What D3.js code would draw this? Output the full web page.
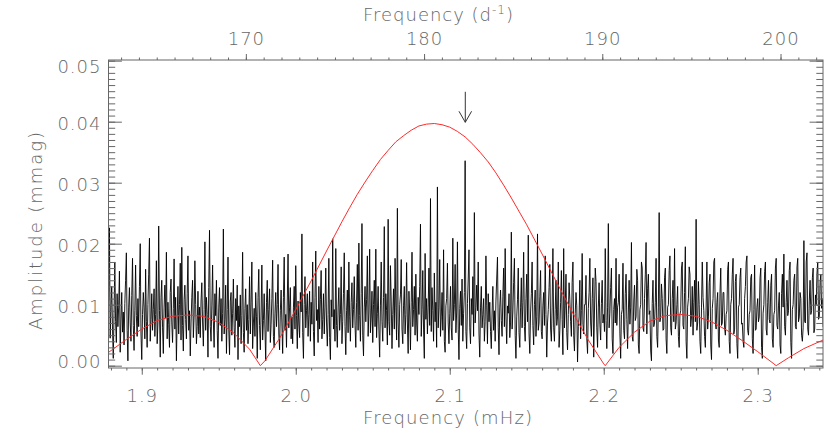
<!DOCTYPE html>
<html>
<head>
<meta charset="utf-8">
<script src="https://cdn.jsdelivr.net/npm/d3@7"></script>
<style>
body { margin: 0; background: #fff; }
svg text { font-family: "DejaVu Sans", sans-serif; font-weight: 200; fill: #666; }
</style>
</head>
<body>
<svg id="chart" width="830" height="434"></svg>
<script>
// amplitude spectrum (black), in units of 1e-4 mmag, one value per 0.0005 mHz starting at 1.878 mHz
var noiseStart = 1.878, noiseStep = 0.0005;
var noiseAmp = [
 70,110,226,45,95,130,60,12,85,170,72,38,118,64,96,155,22,75,120,55,
 88,34,102,140,185,58,8,96,128,70,40,115,176,66,25,90,165,82,48,110,
 64,130,200,52,10,84,120,96,44,158,72,30,100,150,209,40,76,118,58,92,
 126,48,84,172,36,70,229,90,14,112,140,62,20,96,132,78,186,44,104,68,
 30,120,142,70,38,94,175,60,112,8,80,130,52,100,168,42,194,66,24,108,
 132,76,44,118,180,58,90,16,70,112,140,46,82,172,100,36,64,122,52,96,
 46,106,136,70,32,92,203,58,112,84,14,128,222,64,40,98,165,72,30,118,
 82,140,58,12,96,128,66,110,40,86,224,52,76,132,20,92,178,60,18,106,
 120,50,86,142,62,30,110,74,132,10,98,64,116,36,82,186,54,22,94,126,
 58,100,36,76,146,52,104,170,28,70,94,48,120,80,12,112,158,66,26,88,
 165,42,74,118,60,8,104,140,56,92,126,38,68,110,173,48,30,86,120,64,
 100,166,52,26,90,124,70,20,112,178,58,84,30,106,183,62,96,128,44,80,
 36,96,130,60,164,82,28,106,70,46,120,88,216,54,12,100,146,62,90,118,
 48,84,122,40,104,68,170,56,16,112,188,74,92,38,130,60,108,156,44,76,
 118,52,96,160,70,32,84,176,46,10,108,80,208,60,92,40,192,66,30,96,
 128,58,84,162,36,72,118,185,64,18,90,124,54,170,80,40,104,136,62,92,
 146,66,30,104,166,58,201,82,40,118,233,50,16,96,130,72,108,180,48,88,
 191,54,78,122,38,100,140,64,191,46,86,130,60,14,98,170,72,40,112,228,
 62,118,90,34,240,72,50,164,106,28,84,126,60,176,96,42,258,70,30,100,
 116,174,60,36,98,130,52,84,169,70,20,122,88,26,104,186,64,92,130,50,
 150,70,40,112,84,130,232,48,92,156,60,12,184,76,110,52,96,160,66,274,
 56,128,90,40,152,72,104,30,293,62,96,174,48,80,120,58,190,40,22,98,
 110,168,70,36,86,130,62,42,209,74,100,166,54,88,203,60,10,94,122,66,
 142,40,86,120,336,56,28,102,142,190,62,36,110,84,146,48,251,70,96,132,
 90,170,52,14,96,130,62,84,110,40,72,180,98,36,118,72,104,56,28,88,
 130,58,90,40,106,142,178,62,18,96,124,74,48,114,160,64,192,80,36,98,
 86,118,46,70,219,60,88,136,176,50,12,80,108,160,54,30,96,144,62,104,
 186,64,40,110,150,72,214,52,20,88,118,170,66,34,100,124,48,80,216,58,
 70,114,156,56,44,98,120,66,180,84,14,70,92,128,166,60,40,96,192,62,
 40,92,140,66,80,170,30,58,104,156,76,18,192,62,98,150,54,26,84,136,
 108,72,48,136,170,50,24,86,120,98,6,64,80,140,44,90,184,68,52,100,
 100,148,44,20,94,120,176,70,48,110,144,14,88,160,138,62,30,96,136,68,
 42,102,140,70,84,56,192,74,28,96,233,62,86,128,160,44,20,92,110,70,
 176,66,96,104,150,52,12,84,92,168,58,44,118,150,76,28,88,140,68,96,
 202,48,40,106,132,74,80,158,140,34,20,92,100,170,160,62,56,110,150,202,
 52,126,150,84,90,24,8,102,140,64,70,104,176,48,30,96,251,72,80,134,
 110,58,60,144,160,44,20,96,100,156,180,62,50,110,140,72,192,60,70,100,
 130,48,30,84,90,160,170,66,60,120,195,40,12,96,110,162,150,64,80,130,
 50,104,140,72,240,58,70,138,100,40,20,96,170,112,90,48,30,96,170,60,
 80,136,150,34,10,94,110,170,176,70,60,104,120,42,30,118,160,66,70,120,
 120,62,50,84,90,158,170,40,20,100,110,150,176,52,60,138,150,36,12,96,
 100,144,160,68,70,40,30,110,130,170,180,58,50,84,90,144,150,44,20,92,
 165,58,60,96,110,72,80,144,160,30,12,86,100,154,170,60,50,104,140,76,
 70,132,150,44,30,84,90,160,176,66,60,98,120,34,20,118,150,96,183,64,
 50,104,140,82,90,156,170,38,12,92,100,140,150,64,60,162,176,72,80,120,
 110,50,40,62,205,72,70,170,185,60,50,106,140,84,90,144,160,54,60,116,
 100,152,170,76,80,136,150,94,110,64,60,120,140,80
];

// spectral window (red), mHz / mmag
var winFreq = [1.878, 1.89, 1.90, 1.91, 1.92, 1.93, 1.94, 1.95, 1.96, 1.97, 1.977, 1.98, 1.99,
  2.00, 2.01, 2.02, 2.03, 2.035, 2.04, 2.045, 2.05, 2.055, 2.06, 2.065, 2.07, 2.075, 2.08, 2.085,
  2.09, 2.095, 2.10, 2.105, 2.11, 2.115, 2.12, 2.125, 2.13, 2.135, 2.14, 2.145,
  2.15, 2.16, 2.17, 2.18, 2.19, 2.20, 2.201, 2.21, 2.22, 2.23, 2.24, 2.25, 2.26, 2.27, 2.28,
  2.29, 2.30, 2.31, 2.312, 2.32, 2.33, 2.3424];
var winAmp = [0.0021, 0.0043, 0.0060, 0.0074, 0.0081, 0.0083, 0.0081, 0.0071, 0.0053, 0.0027, 0.0000, 0.0008, 0.0047,
  0.0092, 0.0139, 0.0188, 0.0236, 0.0259, 0.0281, 0.0301, 0.0320, 0.0338, 0.0353, 0.0367, 0.0377, 0.0386, 0.0393, 0.0396,
  0.0397, 0.0395, 0.0391, 0.0384, 0.0375, 0.0363, 0.0349, 0.0334, 0.0316, 0.0296, 0.0275, 0.0253,
  0.0231, 0.0183, 0.0134, 0.0086, 0.0042, 0.0003, 0.0000, 0.0030, 0.0055, 0.0073, 0.0082, 0.0084, 0.0081, 0.0072, 0.0058,
  0.0041, 0.0023, 0.0004, 0.0000, 0.0013, 0.0028, 0.0042];

var xTicks = [1.9, 2.0, 2.1, 2.2, 2.3];
var topTicks = [170, 180, 190, 200];
var yTicks = [0.00, 0.01, 0.02, 0.03, 0.04, 0.05];

// arrow marking the highest peak
var arrowFreq = 2.1101, arrowFrom = 0.0449, arrowTo = 0.0399;

var m = {left: 108.5, right: 823, top: 60, bottom: 368};
var svg = d3.select("#chart");

var x = d3.scaleLinear().domain([1.8784, 2.3424]).range([m.left, m.right]);
var xTop = d3.scaleLinear().domain(x.domain().map(function (f) { return f * 86.4; })).range([m.left, m.right]);
var y = d3.scaleLinear().domain([-0.00038, 0.05011]).range([m.bottom, m.top]);

svg.append("clipPath").attr("id", "clip")
    .append("rect")
    .attr("x", m.left).attr("y", m.top)
    .attr("width", m.right - m.left).attr("height", m.bottom - m.top);

var plot = svg.append("g").attr("clip-path", "url(#clip)");

var noiseLine = d3.line()
    .x(function (d, i) { return x(noiseStart + i * noiseStep); })
    .y(function (d) { return y(d * 1e-4); });

plot.append("path")
    .datum(noiseAmp)
    .attr("d", noiseLine)
    .attr("fill", "none")
    .attr("stroke", "#000")
    .attr("stroke-width", 0.9);

var winLine = d3.line()
    .x(function (d, i) { return x(winFreq[i]); })
    .y(function (d) { return y(d); });

plot.append("path")
    .datum(winAmp)
    .attr("d", winLine)
    .attr("fill", "none")
    .attr("stroke", "#ff2a2a")
    .attr("stroke-width", 1);

// axes
function styleAxis(g) {
    g.attr("color", "#666")
     .attr("font-size", 18)
     .attr("font-family", null);
    g.selectAll("text").attr("letter-spacing", 1);
    g.select(".domain").remove();
}

// bottom
svg.append("g")
    .attr("transform", "translate(0," + m.bottom + ")")
    .call(d3.axisBottom(x).tickValues(d3.range(188, 235).map(function (v) { return v / 100; }))
        .tickSize(2.5).tickFormat(""))
    .call(styleAxis);
svg.append("g")
    .attr("transform", "translate(0," + m.bottom + ")")
    .call(d3.axisBottom(x).tickValues(xTicks).tickSize(6.7).tickPadding(15).tickFormat(d3.format(".1f")))
    .call(styleAxis);

// top
svg.append("g")
    .attr("transform", "translate(0," + m.top + ")")
    .call(d3.axisTop(xTop).tickValues(d3.range(163, 203)).tickSize(2.5).tickFormat(""))
    .call(styleAxis);
svg.append("g")
    .attr("transform", "translate(0," + m.top + ")")
    .call(d3.axisTop(xTop).tickValues(topTicks).tickSize(6).tickPadding(9).tickFormat(d3.format("d")))
    .call(styleAxis);

// left
svg.append("g")
    .attr("transform", "translate(" + m.left + ",0)")
    .call(d3.axisLeft(y).tickValues(d3.range(0, 51).map(function (v) { return v / 1000; }))
        .tickSize(-6.7).tickFormat(""))
    .call(styleAxis);
var leftAxis = svg.append("g")
    .attr("transform", "translate(" + m.left + ",0)")
    .call(d3.axisLeft(y).tickValues(yTicks).tickSize(-13.4).tickPadding(7).tickFormat(d3.format(".2f")))
    .call(styleAxis);
// keep the end labels inside the frame, as IDL does
leftAxis.selectAll(".tick").each(function (d) {
    var yy = y(d), c = Math.max(m.top + 7, Math.min(m.bottom - 6.5, yy + 2));
    d3.select(this).select("text").attr("y", c - yy);
});

// right
svg.append("g")
    .attr("transform", "translate(" + m.right + ",0)")
    .call(d3.axisRight(y).tickValues(d3.range(0, 51).map(function (v) { return v / 1000; }))
        .tickSize(-6.7).tickFormat(""))
    .call(styleAxis);
svg.append("g")
    .attr("transform", "translate(" + m.right + ",0)")
    .call(d3.axisRight(y).tickValues(yTicks).tickSize(-13.4).tickFormat(""))
    .call(styleAxis);

// frame
svg.append("rect")
    .attr("x", m.left).attr("y", m.top)
    .attr("width", m.right - m.left).attr("height", m.bottom - m.top)
    .attr("fill", "none").attr("stroke", "#666").attr("stroke-width", 1);

// titles
var topTitle = svg.append("text")
    .attr("x", 363).attr("y", 21)
    .attr("font-size", 18)
    .attr("textLength", 150).attr("lengthAdjust", "spacing");
topTitle.append("tspan").text("Frequency (d");
topTitle.append("tspan").attr("dy", -7).attr("font-size", 12).text("-1");
topTitle.append("tspan").attr("dy", 7).text(")");

svg.append("text")
    .attr("x", 363).attr("y", 424)
    .attr("font-size", 18)
    .attr("textLength", 169).attr("lengthAdjust", "spacing")
    .text("Frequency (mHz)");

svg.append("text")
    .attr("transform", "translate(42,231) rotate(-90)")
    .attr("text-anchor", "middle")
    .attr("font-size", 18)
    .attr("textLength", 198).attr("lengthAdjust", "spacing")
    .text("Amplitude (mmag)");

// arrow
var ax = x(arrowFreq), ay0 = y(arrowFrom), ay1 = y(arrowTo);
svg.append("path")
    .attr("d", "M" + ax + "," + ay0 + "V" + ay1 + "M" + (ax - 6.3) + "," + (ay1 - 11) + "L" + ax + "," + ay1 + "L" + (ax + 6.3) + "," + (ay1 - 11))
    .attr("fill", "none")
    .attr("stroke", "#333")
    .attr("stroke-width", 1);
</script>
</body>
</html>
